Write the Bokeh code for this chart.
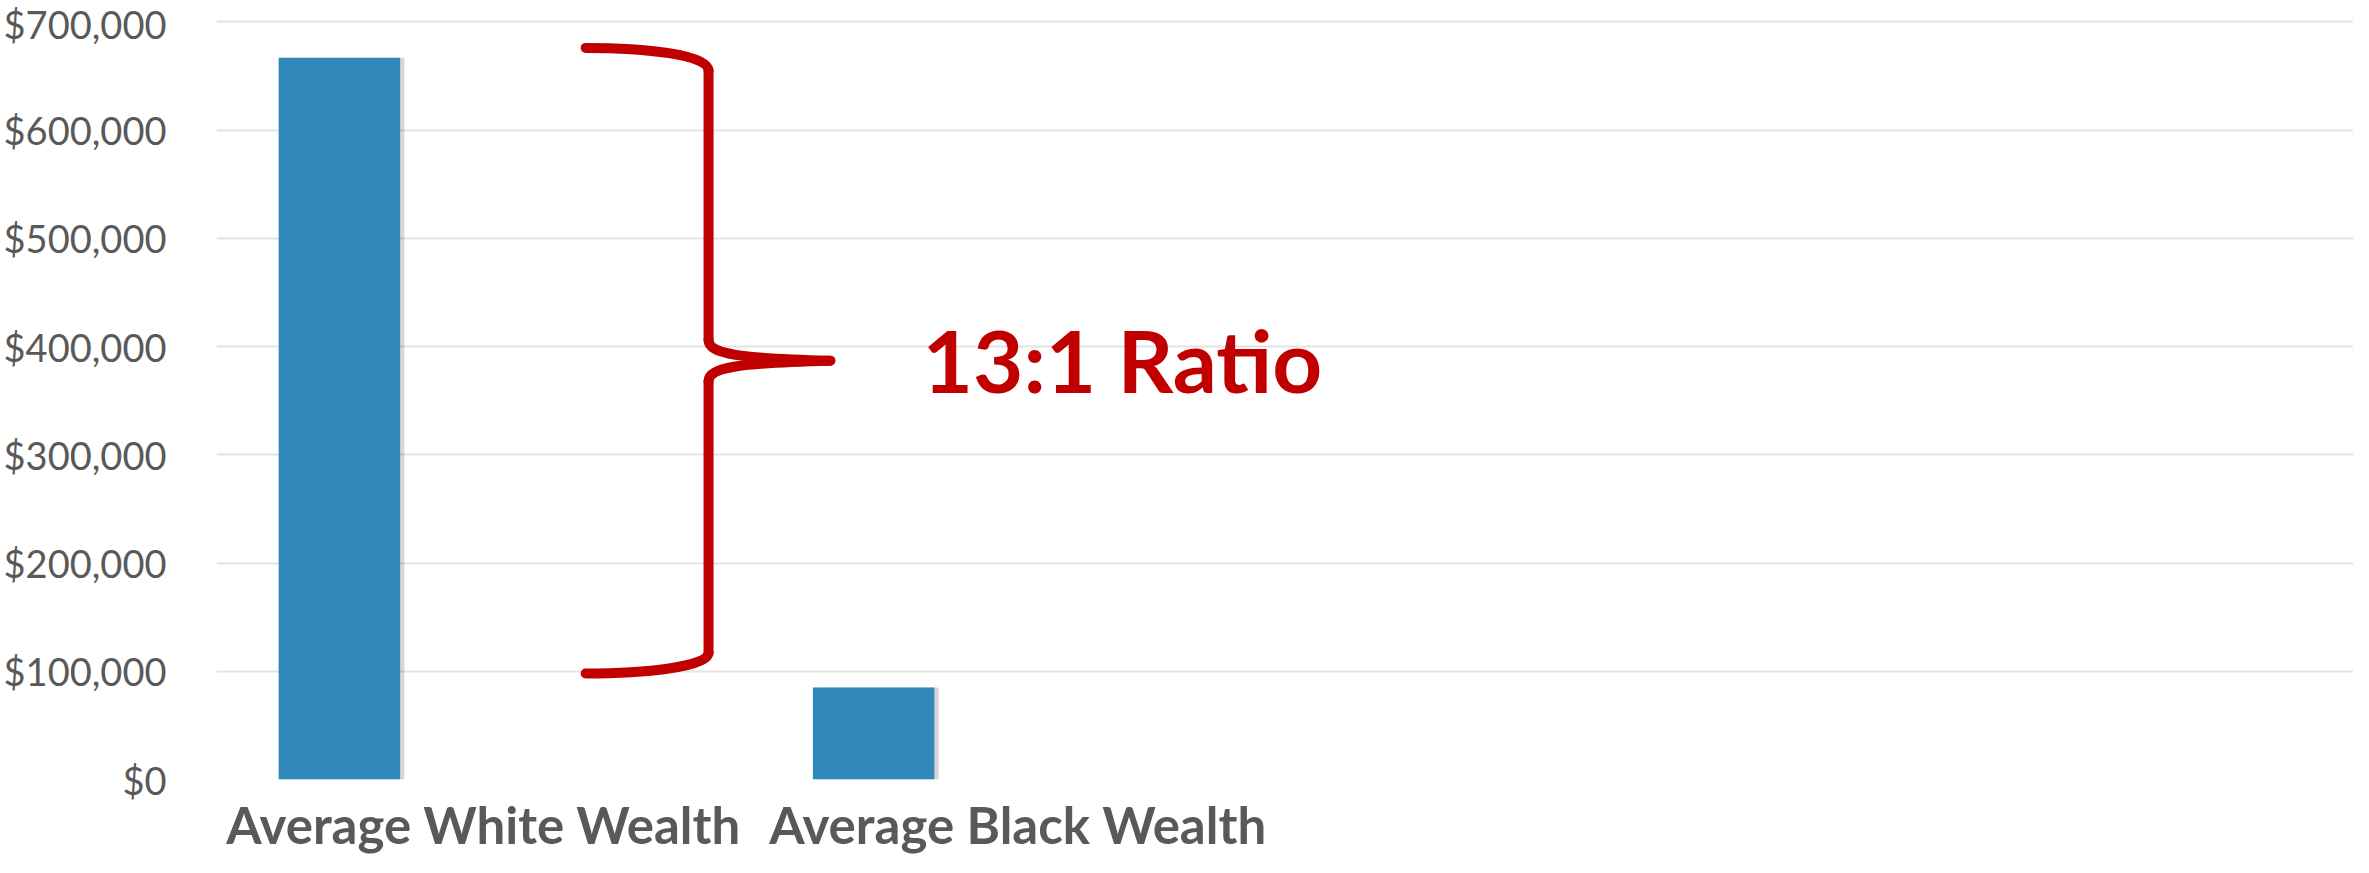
from bokeh.plotting import figure
from bokeh.models import Range1d, FactorRange, NumeralTickFormatter, FixedTicker, Label
from bokeh.transform import dodge
from bokeh.embed import file_html
from bokeh.resources import INLINE

# ---- data ----
categories = ["Average White Wealth", "Average Black Wealth"]
blank_slots = [" ", "  "]
wealth = [667000, 85000]
y_ticks = [0, 100000, 200000, 300000, 400000, 500000, 600000, 700000]
ratio_text = "13:1 Ratio"

# brace annotation (data space: synthetic category units, dollars)
brace_top = 676000
brace_bottom = 98000
brace_mid = 387000

BAR = "#2F87BA"
RED = "#C00000"
GRAY = "#595959"

p = figure(width=2353, height=857, output_backend="svg", toolbar_location=None,
           x_range=FactorRange(factors=categories + blank_slots, range_padding=0, factor_padding=0),
           y_range=Range1d(0, 712400),
           min_border_left=216, min_border_right=0, min_border_top=8, min_border_bottom=76)
p.outline_line_color = None
p.background_fill_color = "white"
p.border_fill_color = "white"

src = dict(cat=categories, val=wealth)

# shadow then bar
p.vbar(x=dodge("cat", -0.262, range=p.x_range), top="val", width=0.2274, source=src,
       fill_color="#000000", fill_alpha=0.16, line_color=None)
p.vbar(x=dodge("cat", -0.270, range=p.x_range), top="val", width=0.2274, source=src,
       fill_color=BAR, line_color=None)

# axes
p.xgrid.grid_line_color = None
p.ygrid.grid_line_color = "#E3E3E3"
p.ygrid.grid_line_width = 2
p.yaxis.ticker = FixedTicker(ticks=y_ticks)
p.yaxis.formatter = NumeralTickFormatter(format="$0,0")
for ax in (p.xaxis[0], p.yaxis[0]):
    ax.axis_line_color = None
    ax.major_tick_line_color = None
    ax.minor_tick_line_color = None
    ax.major_tick_out = 0
    ax.major_tick_in = 0
p.yaxis.major_label_text_font = "Lato"
p.yaxis.major_label_text_font_size = "38px"
p.yaxis.major_label_text_color = GRAY
p.yaxis.major_label_standoff = 50
p.xaxis.major_label_text_font = "Lato"
p.xaxis.major_label_text_font_style = "bold"
p.xaxis.major_label_text_font_size = "51px"
p.xaxis.major_label_text_color = GRAY
p.xaxis.major_label_standoff = 14

# brace
xl, xv, xc = 0.691, 0.921, 1.149
p.bezier(x0=[xl], y0=[brace_top], x1=[xv], y1=[655000], cx0=[0.80], cy0=[brace_top], cx1=[xv], cy1=[670000],
         line_color=RED, line_width=10, line_cap="round")
p.segment(x0=[xv, xv], y0=[655000, 368000], x1=[xv, xv], y1=[406000, 117000],
          line_color=RED, line_width=10, line_cap="round")
p.bezier(x0=[xv], y0=[406000], x1=[xc], y1=[brace_mid], cx0=[xv], cy0=[393000], cx1=[0.98], cy1=[389000],
         line_color=RED, line_width=10, line_cap="round")
p.bezier(x0=[xc], y0=[brace_mid], x1=[xv], y1=[368000], cx0=[0.98], cy0=[385000], cx1=[xv], cy1=[381000],
         line_color=RED, line_width=10, line_cap="round")
p.bezier(x0=[xv], y0=[117000], x1=[xl], y1=[brace_bottom], cx0=[xv], cy0=[104000], cx1=[0.80], cy1=[brace_bottom],
         line_color=RED, line_width=10, line_cap="round")

p.add_layout(Label(x=1.3215, y=388500, text=ratio_text, text_font="Lato", text_font_style="bold",
                   text_font_size="87px", text_color=RED, text_baseline="alphabetic", text_align="left"))

open("out.html", "w").write(file_html(p, INLINE))
